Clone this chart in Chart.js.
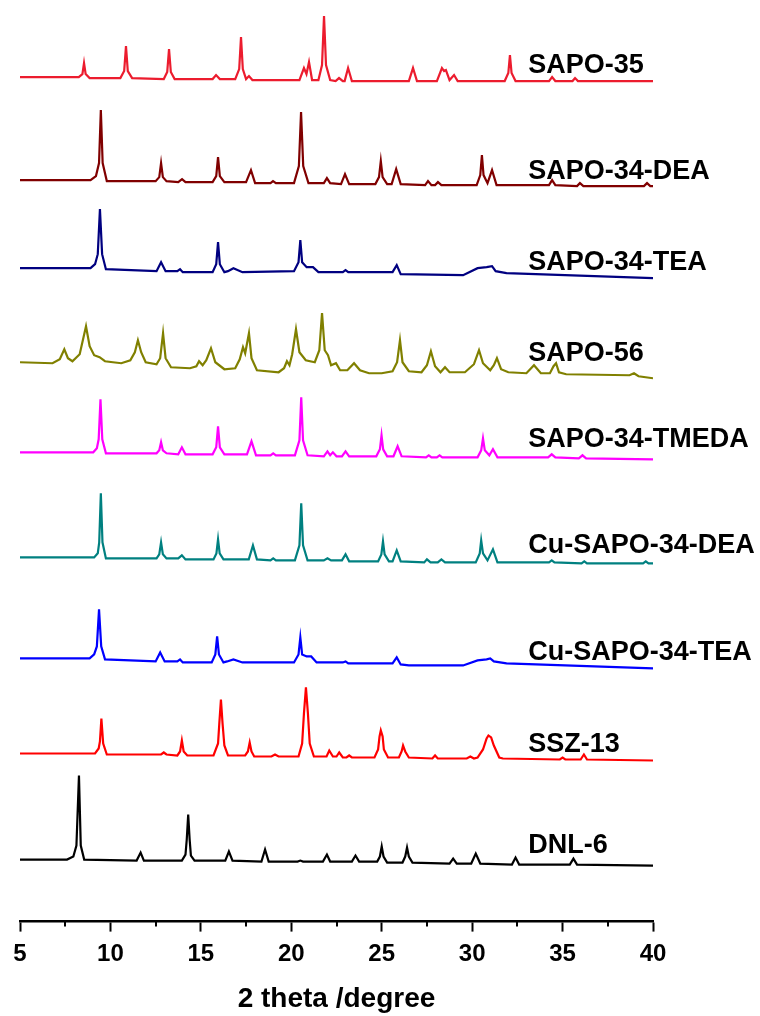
<!DOCTYPE html>
<html>
<head>
<meta charset="utf-8">
<title>XRD patterns</title>
<script src="https://cdn.jsdelivr.net/npm/chart.js@4/dist/chart.umd.min.js"></script>
<style>
  html, body { margin: 0; padding: 0; background: #fff; }
  #wrap { position: relative; width: 760px; height: 1016px; }
</style>
</head>
<body>
<div id="wrap"><canvas id="xrd"></canvas></div>
<script>
// Sample names, top to bottom, with line colours
const SAMPLES = ['SAPO-35', 'SAPO-34-DEA', 'SAPO-34-TEA', 'SAPO-56', 'SAPO-34-TMEDA',
  'Cu-SAPO-34-DEA', 'Cu-SAPO-34-TEA', 'SSZ-13', 'DNL-6'];
const COLORS = ['#ec1c2e', '#800000', '#000080', '#808000', '#ff00ff',
  '#008080', '#0000ff', '#ff0000', '#000000'];

// vertical stacking offset of each pattern (a.u.)
const OFFSETS = [844, 741, 653, 559, 469, 364, 263, 168, 62];

// x ticks (2 theta, degree)
const X_MIN = 5, X_MAX = 40, X_STEP = 5;
const MINOR_TICKS = [7.5, 12.5, 17.5, 22.5, 27.5, 32.5, 37.5];

// [2theta, intensity], intensity relative to the left baseline
const SAPO_35 = [
  [5,0],[8.25,0],[8.45,3],[8.54,14],[8.63,3],[8.85,-1],
  [10.55,-1],[10.76,6],[10.86,31],[10.96,6],[11.2,-1],
  [12.95,-2],[13.14,5],[13.24,28],[13.34,5],[13.55,-2],
  [15.65,-2],[15.84,2],[16.05,-2],
  [16.9,-2],[17.12,8],[17.22,40],[17.32,8],[17.5,-2],[17.66,1],[17.85,-3],
  [20.45,-3],[20.7,9],[20.84,3],[20.98,15],[21.15,-3],
  [21.5,-3],[21.7,12],[21.81,61],[21.92,12],[22.15,-3],
  [22.45,-4],[22.64,-1],[22.85,-4],
  [22.95,-4],[23.14,9],[23.35,-4],
  [26.5,-4],[26.73,9],[26.95,-4],
  [28.05,-4],[28.33,9],[28.45,6],[28.55,7],[28.75,-3],[29.0,2],[29.2,-4],
  [31.8,-4],[32.0,4],[32.09,22],[32.18,4],[32.4,-4],
  [34.25,-4],[34.42,0],[34.6,-4],
  [35.55,-4],[35.69,-1],[35.85,-4],
  [40,-4],
];
const SAPO_34_DEA = [
  [5,0],[8.9,0],[9.2,4],[9.37,17],[9.47,70],[9.57,17],[9.8,-1],
  [12.5,-1],[12.7,3],[12.8,17],[12.9,3],[13.1,-1],
  [13.75,-2],[13.96,1],[14.15,-2],
  [15.65,-2],[15.85,4],[15.95,23],[16.05,4],[16.3,-2],
  [17.5,-2],[17.77,10],[18.0,-3],
  [18.85,-3],[18.99,-1],[19.15,-3],
  [20.15,-3],[20.42,14],[20.54,68],[20.66,14],[20.95,-3],
  [21.8,-3],[21.97,2],[22.15,-3],
  [22.75,-4],[22.97,6],[23.2,-4],
  [24.65,-4],[24.85,3],[24.95,19],[25.05,3],[25.3,-4],
  [25.55,-4],[25.8,11],[26.05,-4],
  [27.4,-5],[27.56,-1],[27.75,-5],[27.95,-5],[28.11,-2],[28.3,-5],
  [30.25,-5],[30.45,5],[30.54,25],[30.63,5],[30.85,-3],[31.1,10],[31.35,-5],
  [34.25,-5],[34.42,0],[34.6,-5],
  [35.8,-6],[35.96,-3],[36.15,-6],
  [39.5,-6],[39.67,-3],[39.85,-6],[40,-6],
];
const SAPO_34_TEA = [
  [5,0],[8.9,0],[9.15,4],[9.3,14],[9.42,59],[9.54,14],[9.75,-1],
  [12.55,-3],[12.8,6],[13.05,-3],
  [13.7,-3],[13.85,-1],[14.0,-4],
  [15.65,-4],[15.85,4],[15.95,26],[16.05,4],[16.3,-4],
  [16.5,-3],[16.8,0],[17.3,-4],
  [20.15,-3],[20.4,6],[20.5,28],[20.6,6],[20.85,1],[21.2,1],[21.5,-4],
  [22.85,-4],[23.0,-2],[23.15,-4],
  [25.6,-4],[25.83,3],[26.05,-6],
  [29.5,-7],[30.3,0],[30.8,1],[31.1,2],[31.3,-3],[31.9,-5],
  [40,-10],
];
const SAPO_56 = [
  [5,0],[6.8,-1],[7.2,3],[7.45,13],[7.65,4],[7.9,1],[8.3,8],[8.65,36],[8.85,16],
  [9.1,7],[9.4,5],[9.7,1],[10.14,0],[10.6,-1],[11.1,2],[11.35,10],[11.52,22],
  [11.7,10],[11.95,0],[12.55,-2],[12.75,4],[12.91,29],[13.05,4],[13.35,-5],
  [14.4,-6],[14.75,-4],[14.9,1],[15.1,-3],[15.3,2],[15.56,14],[15.8,0],[16.3,-7],
  [16.9,-6],[17.15,3],[17.33,15],[17.45,9],[17.66,29],[17.8,4],[18.1,-8],
  [19.3,-10],[19.6,-6],[19.76,1],[19.9,-3],[20.05,8],[20.26,33],[20.45,10],
  [20.8,2],[21.3,0],[21.55,12],[21.7,49],[21.85,12],[22.03,7],[22.2,-3],
  [22.47,-1],[22.7,-8],[23.1,-8],[23.47,-1],[23.8,-8],[24.3,-11],[25.0,-11],
  [25.6,-9],[25.85,0],[26.01,22],[26.15,0],[26.5,-9],[27.2,-10],[27.5,-3],
  [27.72,11],[27.95,-4],[28.25,-10],[28.5,-5],[28.75,-10],[29.6,-10],[30.1,-2],
  [30.38,12],[30.6,-1],[31.0,-8],[31.2,-3],[31.37,4],[31.6,-7],[32.0,-10],
  [33.0,-11],[33.42,-3],[33.8,-11],[34.3,-11],[34.5,-4],[34.64,-1],[34.8,-10],
  [35.2,-12],[38.7,-13],[38.95,-11],[39.2,-14],[40,-16],
];
const SAPO_34_TMEDA = [
  [5,0],[9.05,0],[9.25,4],[9.35,13],[9.45,53],[9.55,13],[9.75,-1],
  [12.55,-1],[12.7,2],[12.8,10],[12.9,2],[13.1,-1],
  [13.75,-2],[13.95,5],[14.15,-2],
  [15.65,-2],[15.85,5],[15.95,26],[16.05,5],[16.3,-2],
  [17.55,-2],[17.8,11],[18.05,-3],
  [18.85,-3],[19.0,-1],[19.15,-3],
  [20.2,-3],[20.45,12],[20.55,55],[20.65,12],[20.9,-3],
  [21.8,-4],[22.0,1],[22.15,-3],[22.3,0],[22.5,-4],
  [22.8,-4],[23.0,1],[23.2,-4],
  [24.7,-4],[24.9,3],[24.99,17],[25.08,3],[25.3,-4],
  [25.65,-4],[25.88,6],[26.1,-4],
  [27.45,-5],[27.6,-3],[27.75,-5],[28.05,-5],[28.2,-3],[28.35,-5],
  [30.3,-5],[30.5,2],[30.6,14],[30.7,2],[30.95,-3],[31.15,3],[31.4,-5],
  [34.2,-5],[34.4,-2],[34.6,-5],
  [35.9,-6],[36.1,-3],[36.3,-6],
  [40,-7],
];
const CU_SAPO_34_DEA = [
  [5,0],[9.1,0],[9.3,4],[9.38,15],[9.47,64],[9.56,15],[9.75,-1],
  [12.55,-1],[12.7,3],[12.8,15],[12.9,3],[13.1,-1],
  [13.75,-1],[13.95,2],[14.15,-2],
  [15.7,-2],[15.86,4],[15.95,18],[16.04,4],[16.25,-2],
  [17.65,-2],[17.88,12],[18.1,-2],
  [18.85,-3],[19.0,-1],[19.15,-3],
  [20.2,-3],[20.45,12],[20.55,54],[20.65,12],[20.9,-3],
  [21.8,-3],[22.0,-1],[22.2,-3],
  [22.8,-3],[23.0,3],[23.2,-4],
  [24.8,-4],[24.98,3],[25.07,16],[25.16,3],[25.4,-4],
  [25.6,-4],[25.83,7],[26.05,-4],
  [27.35,-5],[27.5,-2],[27.7,-5],[28.1,-5],[28.3,-2],[28.5,-5],
  [30.2,-5],[30.42,4],[30.5,17],[30.6,4],[30.85,-3],[31.15,8],[31.4,-5],
  [34.25,-5],[34.4,-3],[34.55,-5],
  [36.05,-6],[36.2,-4],[36.35,-6],
  [39.45,-6],[39.6,-4],[39.75,-6],[40,-6],
];
const CU_SAPO_34_TEA = [
  [5,0],[8.85,0],[9.1,4],[9.25,12],[9.37,49],[9.49,12],[9.7,-1],
  [12.5,-3],[12.75,6],[13.0,-3],
  [13.7,-3],[13.85,-1],[14.0,-4],
  [15.6,-4],[15.8,4],[15.9,22],[16.0,4],[16.25,-4],
  [16.45,-3],[16.8,-1],[17.3,-4],
  [20.15,-4],[20.4,4],[20.5,21],[20.6,4],[20.85,2],[21.1,2],[21.4,-4],
  [22.85,-4],[23.0,-3],[23.15,-5],
  [25.6,-5],[25.83,1],[26.05,-6],
  [26.5,-7],[29.5,-7],[30.3,-2],[30.8,-1],[31.0,0],[31.2,-3],[31.9,-5],
  [40,-10],
];
const SSZ_13 = [
  [5,0],[9.15,0],[9.35,5],[9.42,12],[9.5,35],[9.6,10],[9.8,-1],
  [12.8,-1],[12.95,1],[13.1,-1],
  [13.7,-2],[13.85,2],[13.95,13],[14.05,2],[14.25,-2],
  [15.7,-2],[15.95,10],[16.02,30],[16.11,54],[16.2,30],[16.3,8],[16.5,-2],
  [17.45,-2],[17.6,2],[17.7,11],[17.8,2],[17.95,-3],
  [18.9,-3],[19.1,-1],[19.3,-3],
  [20.4,-3],[20.6,10],[20.7,40],[20.81,66],[20.92,40],[21.02,10],[21.25,-3],
  [21.95,-3],[22.1,3],[22.3,-3],[22.5,-3],[22.65,1],[22.85,-4],
  [23.05,-4],[23.2,-2],[23.35,-4],
  [24.6,-4],[24.8,4],[24.88,17],[24.95,23],[25.05,17],[25.12,4],[25.35,-4],
  [25.95,-4],[26.1,2],[26.18,8],[26.3,2],[26.5,-4],
  [27.8,-5],[27.95,-2],[28.1,-5],
  [29.7,-5],[29.9,-3],[30.1,-5],
  [30.3,-4],[30.6,4],[30.8,15],[30.9,18],[31.05,16],[31.2,8],[31.5,-4],[31.7,-5],
  [34.85,-6],[35.0,-4],[35.15,-6],
  [36.0,-6],[36.18,-1],[36.35,-6],
  [40,-7],
];
const DNL_6 = [
  [5,0],[7.6,0],[7.95,3],[8.12,14],[8.26,84],[8.36,14],[8.55,0],
  [11.45,-1],[11.67,7],[11.85,-1],
  [13.95,-1],[14.15,5],[14.22,20],[14.3,45],[14.38,20],[14.45,4],[14.65,-1],
  [16.35,-1],[16.55,8],[16.75,-1],
  [18.35,-2],[18.55,10],[18.75,-2],
  [20.35,-2],[20.5,-1],[20.65,-2],
  [21.75,-2],[21.97,5],[22.15,-2],
  [23.35,-2],[23.55,4],[23.75,-2],
  [24.75,-2],[24.9,3],[25.0,13],[25.1,3],[25.3,-3],
  [26.15,-3],[26.3,3],[26.4,12],[26.5,3],[26.7,-3],
  [28.75,-4],[28.95,1],[29.15,-4],
  [29.95,-4],[30.2,6],[30.45,-4],
  [32.2,-5],[32.4,2],[32.6,-5],
  [35.4,-5],[35.6,1],[35.8,-5],
  [40,-6],
];
const PATTERNS = [SAPO_35, SAPO_34_DEA, SAPO_34_TEA, SAPO_56, SAPO_34_TMEDA,
  CU_SAPO_34_DEA, CU_SAPO_34_TEA, SSZ_13, DNL_6];

// where the sample names sit (x in 2theta, y = text baseline in a.u.)
const LABEL_X = 33.1;
const LABEL_Y = [848, 742, 651, 560, 474, 368, 261, 169, 69];

const FONT = 'Arial, "Liberation Sans", sans-serif';

// minor ticks + sample names, placed through the chart's own scales
const extras = {
  id: 'xrdExtras',
  afterDraw(chart) {
    const { ctx, scales: { x, y } } = chart;
    ctx.save();
    ctx.strokeStyle = '#000';
    ctx.lineWidth = 2;
    MINOR_TICKS.forEach(v => {
      const px = Math.round(x.getPixelForValue(v));
      ctx.beginPath();
      ctx.moveTo(px, x.top);
      ctx.lineTo(px, x.top + 5);
      ctx.stroke();
    });
    ctx.fillStyle = '#000';
    ctx.font = `bold 27px ${FONT}`;
    ctx.textAlign = 'left';
    ctx.textBaseline = 'alphabetic';
    SAMPLES.forEach((name, i) => {
      ctx.fillText(name, x.getPixelForValue(LABEL_X), y.getPixelForValue(LABEL_Y[i]));
    });
    ctx.restore();
  },
};

const datasets = SAMPLES.map((name, i) => ({
  label: name,
  data: PATTERNS[i].map(([tt, v]) => ({ x: tt, y: v + OFFSETS[i] })),
  borderColor: COLORS[i],
  borderWidth: 2.2,
  pointRadius: 0,
  tension: 0,
  fill: false,
}));

new Chart(document.getElementById('xrd'), {
  type: 'line',
  data: { datasets },
  plugins: [extras],
  options: {
    responsive: true,
    maintainAspectRatio: false,
    animation: false,
    layout: { padding: { left: 20, right: 107, top: 0, bottom: 0 } },
    plugins: { legend: { display: false }, tooltip: { enabled: false } },
    scales: {
      x: {
        type: 'linear',
        min: X_MIN,
        max: X_MAX,
        ticks: { stepSize: X_STEP, color: '#000', padding: 8, font: { family: FONT, size: 24, weight: 'bold' } },
        grid: { drawOnChartArea: false, drawTicks: true, tickLength: 10, tickWidth: 2, tickColor: '#000' },
        border: { display: true, color: '#000', width: 2.5 },
        title: {
          display: true,
          text: '2 theta /degree',
          color: '#000',
          font: { family: FONT, size: 28, weight: 'bold' },
          padding: { top: 6, bottom: 0 },
        },
      },
      y: { display: false, min: 0, max: 921 },
    },
  },
});
</script>
</body>
</html>
